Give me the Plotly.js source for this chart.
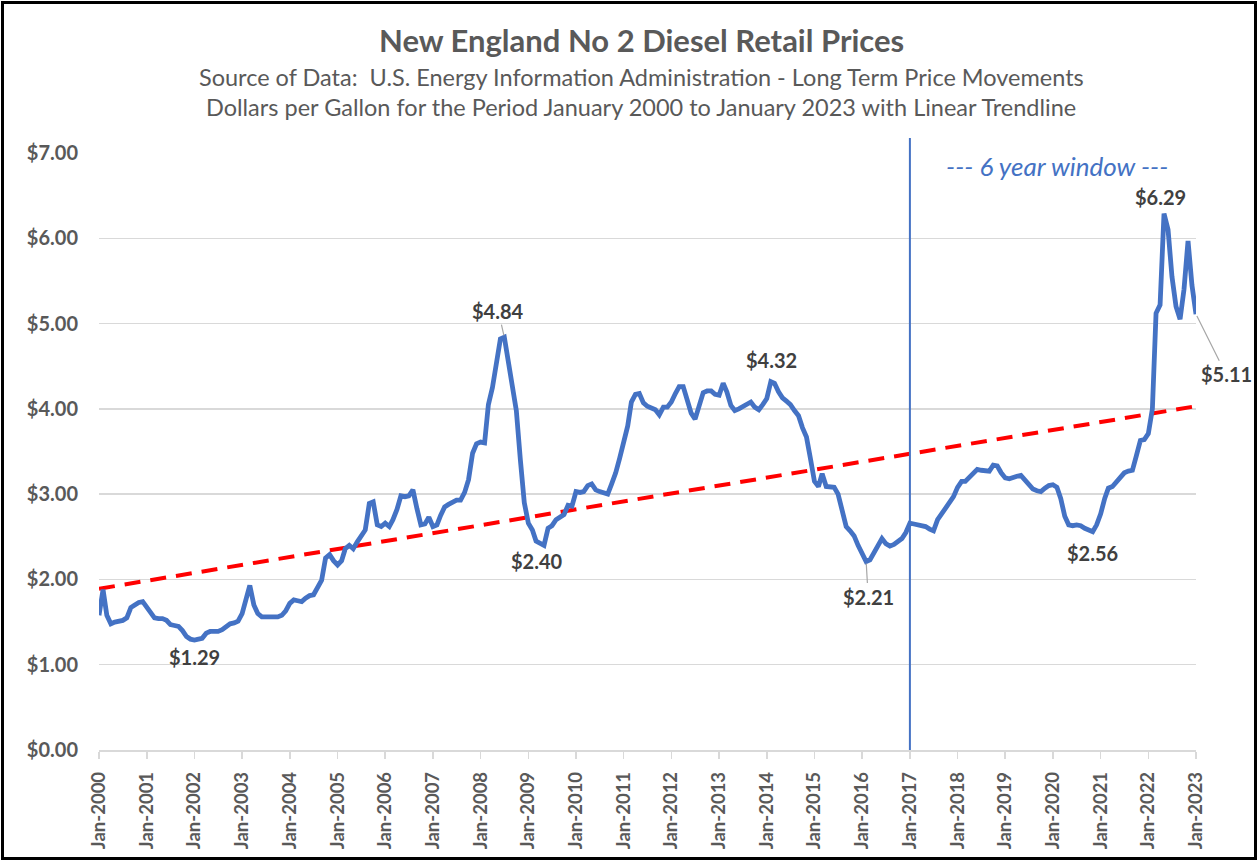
<!DOCTYPE html>
<html><head><meta charset="utf-8">
<script src="https://cdn.plot.ly/plotly-3.0.1.min.js"></script>
<style>body{margin:0;background:#fff}#wrap{position:relative;width:1259px;height:863px}#chart{position:absolute;left:0;top:0;width:1259px;height:863px}#frame{position:absolute;left:1px;top:1px;width:1256px;height:859px;border:3px solid #000;box-sizing:border-box;pointer-events:none}</style>
</head><body><div id="wrap"><div id="chart"></div><div id="frame"></div></div>
<script>
const startYear = 2000;
const prices = [
 1.58,1.88,1.58,1.48,1.50,1.51,1.52,1.55,1.67,1.70,1.73,1.74,
 1.68,1.60,1.55,1.54,1.54,1.52,1.47,1.46,1.45,1.40,1.33,1.30,
 1.29,1.30,1.31,1.37,1.39,1.39,1.39,1.41,1.45,1.48,1.49,1.51,
 1.60,1.80,1.93,1.70,1.60,1.56,1.56,1.57,1.56,1.56,1.58,1.63,
 1.72,1.76,1.75,1.74,1.78,1.81,1.82,1.90,1.99,2.25,2.29,2.22,
 2.17,2.22,2.36,2.40,2.36,2.44,2.52,2.58,2.89,2.91,2.64,2.62,
 2.66,2.62,2.70,2.82,2.98,2.97,2.98,3.05,2.83,2.64,2.65,2.73,
 2.62,2.64,2.75,2.85,2.88,2.91,2.93,2.93,3.02,3.17,3.48,3.59,
 3.61,3.60,4.05,4.25,4.53,4.82,4.84,4.55,4.25,3.98,3.40,2.90,
 2.66,2.58,2.45,2.42,2.40,2.60,2.63,2.70,2.73,2.76,2.87,2.86,
 3.03,3.02,3.03,3.10,3.12,3.05,3.03,3.02,3.00,3.12,3.25,3.42,
 3.60,3.80,4.08,4.17,4.18,4.07,4.03,4.01,3.99,3.93,4.02,4.02,
 4.08,4.18,4.26,4.26,4.12,3.95,3.88,4.06,4.19,4.21,4.21,4.17,
 4.16,4.30,4.20,4.04,3.98,4.00,4.03,4.06,4.08,4.02,3.99,4.05,
 4.12,4.32,4.30,4.20,4.13,4.09,4.05,3.98,3.92,3.78,3.67,3.42,
 3.15,3.09,3.24,3.09,3.09,3.08,3.00,2.80,2.62,2.57,2.51,2.40,
 2.30,2.21,2.23,2.32,2.42,2.48,2.42,2.39,2.41,2.45,2.48,2.55,
 2.66,2.65,2.64,2.63,2.62,2.59,2.57,2.70,2.77,2.82,2.90,2.97,
 3.08,3.15,3.15,3.20,3.26,3.29,3.28,3.27,3.27,3.34,3.33,3.25,
 3.19,3.18,3.20,3.21,3.22,3.17,3.11,3.06,3.04,3.03,3.07,3.10,
 3.11,3.08,2.95,2.74,2.64,2.63,2.64,2.63,2.60,2.58,2.56,2.64,
 2.77,2.95,3.07,3.09,3.14,3.21,3.25,3.27,3.28,3.45,3.63,3.64,
 3.71,4.00,5.12,5.22,6.29,6.10,5.55,5.20,5.05,5.40,5.97,5.45,
 5.11
];
const labelIdx = [24, 102, 112, 169, 193, 250, 268, 276];
const windowStart = '2017-01-01';
const windowText = '--- 6 year window ---';
const titleText = 'New England No 2 Diesel Retail Prices';
const sub1 = 'Source of Data:  U.S. Energy Information Administration - Long Term Price Movements';
const sub2 = 'Dollars per Gallon for the Period January 2000 to January 2023 with Linear Trendline';

function pad(n){return n<10?'0'+n:''+n;}
const dates = prices.map((v,i)=>{const y=startYear+Math.floor(i/12), m=i%12+1; return y+'-'+pad(m)+'-01';});

// linear trendline (least squares on month index)
const n = prices.length;
let sx=0,sy=0,sxx=0,sxy=0;
prices.forEach((v,i)=>{sx+=i;sy+=v;sxx+=i*i;sxy+=i*v;});
const b=(n*sxy-sx*sy)/(n*sxx-sx*sx), a=(sy-b*sx)/n;
const trendY=[a, a+b*(n-1)];
const trendX=[dates[0], dates[n-1]];

const gray='#595959', dark='#404040', blue='#4472C4';
const F='Lato, "Open Sans", sans-serif';

const traces=[
 {x:trendX,y:trendY,mode:'lines',line:{color:'#FF0000',width:4,dash:'16px,10px'},hoverinfo:'skip'},
 {x:dates,y:prices,mode:'lines',line:{color:blue,width:4.8},hoverinfo:'x+y'}
];

const shifts = {
 24:{xs:0,ys:-17,arrow:false},
 102:{ax:-6,ay:-26,arrow:true},
 112:{xs:-7,ys:-16,arrow:false},
 169:{xs:1,ys:22,arrow:false},
 193:{ax:2,ay:35,arrow:true},
 250:{xs:0,ys:-21,arrow:false},
 268:{xs:-4,ys:17,arrow:false},
 276:{ax:30,ay:60,arrow:true}
};
const anns = labelIdx.map(i=>{
 const s=shifts[i];
 const o={x:dates[i],y:prices[i],xref:'x',yref:'y',text:'$'+prices[i].toFixed(2),
   font:{family:F,size:20,color:dark,weight:'bold'}};
 if(s.arrow){Object.assign(o,{showarrow:true,ax:s.ax,ay:s.ay,arrowhead:0,arrowwidth:1.2,arrowcolor:'#A6A6A6',standoff:2,startstandoff:0});}
 else{Object.assign(o,{showarrow:false,xshift:s.xs,yshift:s.ys});}
 return o;
});
const cx=(641-99)/1097;
anns.push({xref:'paper',yref:'paper',x:cx,y:(750-40)/597,xanchor:'center',yanchor:'middle',showarrow:false,text:'<b>'+titleText+'</b>',font:{family:F,size:31,color:gray}});
anns.push({xref:'paper',yref:'paper',x:cx,y:(750-77)/597,xanchor:'center',yanchor:'middle',showarrow:false,text:sub1,font:{family:F,size:23.5,color:gray}});
anns.push({xref:'paper',yref:'paper',x:cx,y:(750-107)/597,xanchor:'center',yanchor:'middle',showarrow:false,text:sub2,font:{family:F,size:23.5,color:gray}});
anns.push({xref:'paper',yref:'paper',x:(1057-99)/1097,y:(750-166)/597,xanchor:'center',yanchor:'middle',showarrow:false,text:'<i>'+windowText+'</i>',font:{family:F,size:26,color:blue}});

const layout={
 width:1259,height:863,showlegend:false,
 paper_bgcolor:'#fff',plot_bgcolor:'#fff',
 margin:{l:99,r:63,t:153,b:113},
 xaxis:{type:'date',range:['2000-01-01','2023-01-01'],tick0:'2000-01-01',dtick:'M12',tickformat:'%b-%Y',
   tickangle:-90,tickfont:{family:F,size:18.5,color:gray,weight:'bold'},ticks:'outside',ticklen:7,tickcolor:'#D9D9D9',tickwidth:1.5,
   ticklabelstandoff:6,showgrid:false,showline:true,linecolor:'#D9D9D9',linewidth:1.5,zeroline:false,fixedrange:true},
 yaxis:{range:[0,7],dtick:1,tickprefix:'$',tickformat:'.2f',tickfont:{family:F,size:20,color:gray,weight:'bold'},
   showgrid:true,gridcolor:'#D9D9D9',gridwidth:1.5,zeroline:false,showline:false,ticks:'',ticklabelstandoff:20,fixedrange:true},
 shapes:[{type:'line',xref:'x',yref:'paper',x0:windowStart,x1:windowStart,y0:0,y1:(750-138)/597,line:{color:blue,width:2},layer:'above'}],
 annotations:anns
};
Plotly.newPlot('chart',traces,layout,{displayModeBar:false,staticPlot:true});
</script></body></html>
